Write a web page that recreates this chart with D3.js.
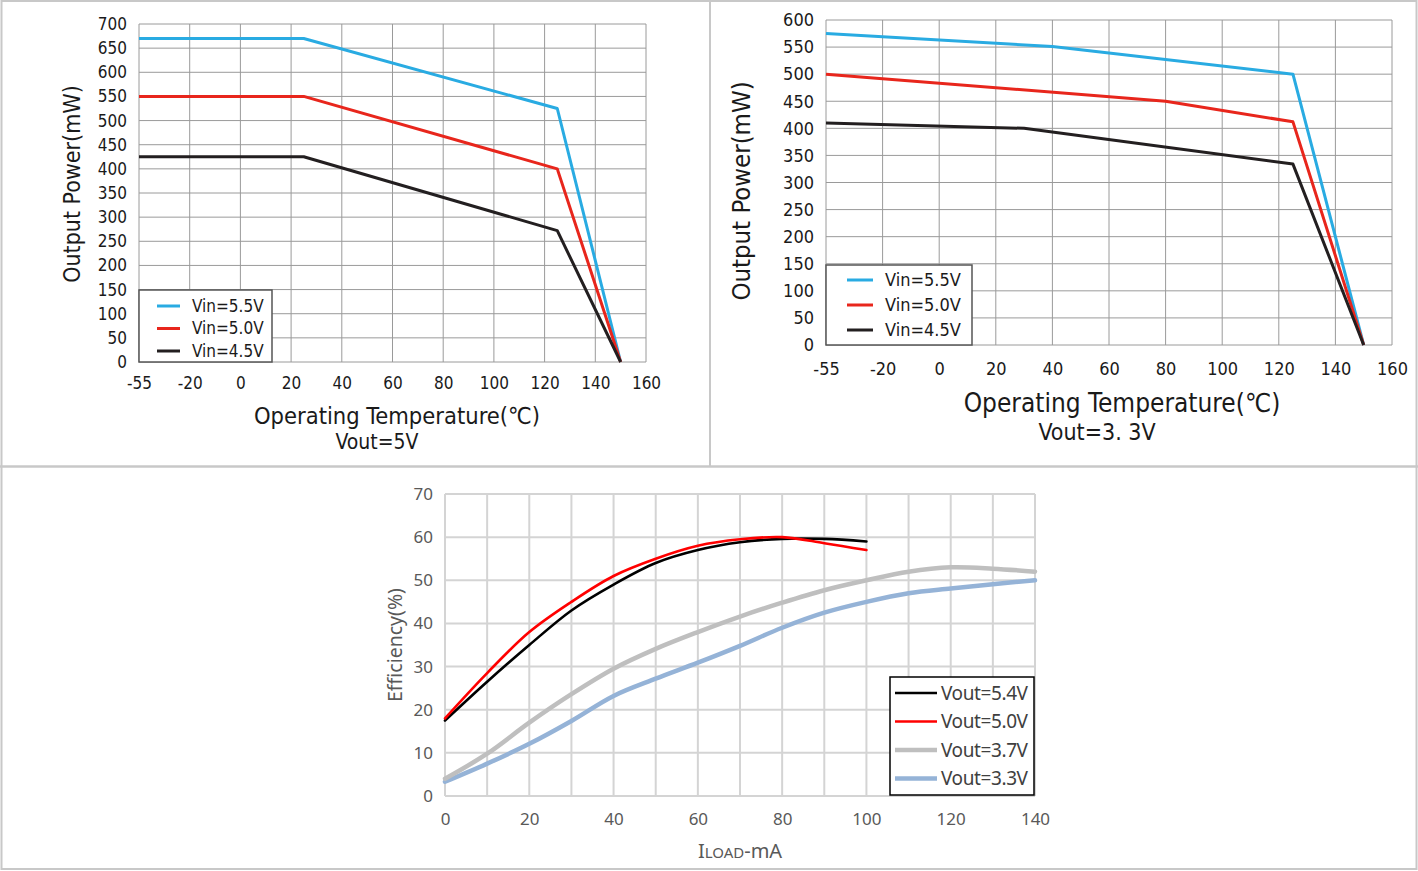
<!DOCTYPE html>
<html>
<head>
<meta charset="utf-8">
<script src="https://cdn.jsdelivr.net/npm/d3@7"></script>
<style>
  body { margin: 0; background: #fff; }
  svg { display: block; }
</style>
</head>
<body>
<div id="chart"></div>
<script>
// temperature axis: labels are evenly spaced, so the scale is piecewise
const tempTicks = [-55, -20, 0, 20, 40, 60, 80, 100, 120, 140, 160];

// Vout = 5V
const tlTemp = [-55, 25, 125, 150];
const tlVin55 = [670, 670, 525, 0];
const tlVin50 = [550, 550, 400, 0];
const tlVin45 = [425, 425, 272, 0];
const tlPowerTicks = d3.range(0, 701, 50);

// Vout = 3.3V
const trTemp55 = [-55, 40, 125, 150];
const trVin55 = [575, 551, 500, 0];
const trTemp50 = [-55, 80, 125, 150];
const trVin50 = [500, 450, 412, 0];
const trTemp45 = [-55, 30, 125, 150];
const trVin45 = [410, 400, 334, 0];
const trPowerTicks = d3.range(0, 601, 50);

const vinNames = ["Vin=5.5V", "Vin=5.0V", "Vin=4.5V"];
const vinColors = ["#29abe2", "#e8261c", "#231f20"];

// efficiency vs load
const loadX = d3.range(0, 141, 10);
const eff54 = [17.5, 26.5, 35, 43, 49, 54, 57, 58.8, 59.6, 59.6, 59];
const eff50 = [18, 28.5, 38, 45, 51, 55, 58, 59.5, 60, 58.6, 57];
const eff37 = [4, 9.8, 17, 23.6, 29.5, 34.1, 38, 41.6, 44.8, 47.7, 50, 52, 53, 52.7, 52];
const eff33 = [3.3, 7.5, 12.1, 17.4, 23.2, 27.2, 30.9, 34.8, 39, 42.5, 45, 47, 48.1, 49.1, 50];
const effTicks = d3.range(0, 71, 10);
const loadLabelTicks = d3.range(0, 141, 20);
const voutNames = ["Vout=5.4V", "Vout=5.0V", "Vout=3.7V", "Vout=3.3V"];
const voutColors = ["#000000", "#ff0000", "#bfbfbf", "#95b3d7"];
const voutWidths = [2.6, 2.6, 4.5, 4.5];

const W = 1418, H = 871;
const svg = d3.select("#chart").append("svg")
    .attr("width", W).attr("height", H);

// panel frame
svg.append("rect").attr("x", 1.5).attr("y", 1).attr("width", 1415).attr("height", 868)
    .attr("fill", "none").attr("stroke", "#c8c8c8").attr("stroke-width", 2);
svg.append("line").attr("x1", 710).attr("x2", 710).attr("y1", 0).attr("y2", 466)
    .attr("stroke", "#c8c8c8").attr("stroke-width", 2);
svg.append("line").attr("x1", 0).attr("x2", W).attr("y1", 466.5).attr("y2", 466.5)
    .attr("stroke", "#c8c8c8").attr("stroke-width", 2.5);

const topFont = "'DejaVu Sans Condensed', 'Liberation Sans Narrow', 'DejaVu Sans', sans-serif";

function tempChart(opt) {
    const x = d3.scaleLinear()
        .domain(tempTicks)
        .range(tempTicks.map((d, i) => opt.left + i * (opt.right - opt.left) / (tempTicks.length - 1)));
    const y = d3.scaleLinear().domain([0, opt.ymax]).range([opt.bottom, opt.top]);
    const g = svg.append("g");

    // grid
    g.append("g").selectAll("line").data(tempTicks).enter().append("line")
        .attr("x1", d => x(d)).attr("x2", d => x(d))
        .attr("y1", opt.top).attr("y2", opt.bottom)
        .attr("stroke", "#9a9a9a").attr("stroke-width", 1);
    g.append("g").selectAll("line").data(opt.yTicks).enter().append("line")
        .attr("x1", opt.left).attr("x2", opt.right)
        .attr("y1", d => y(d)).attr("y2", d => y(d))
        .attr("stroke", "#9a9a9a").attr("stroke-width", 1);

    // axes (labels only)
    const xa = g.append("g").attr("transform", "translate(0," + opt.bottom + ")")
        .call(d3.axisBottom(x).tickValues(tempTicks).tickSize(0).tickPadding(opt.xPad).tickFormat(d => String(d)));
    const ya = g.append("g").attr("transform", "translate(" + opt.left + ",0)")
        .call(d3.axisLeft(y).tickValues(opt.yTicks).tickSize(0).tickPadding(12));
    [xa, ya].forEach(a => {
        a.select(".domain").remove();
        a.selectAll("text").attr("font-family", topFont).attr("font-size", opt.tickSize).attr("fill", "#1a1a1a");
    });

    // series
    const line = d3.line().x(d => x(d[0])).y(d => y(d[1]));
    opt.series.forEach((s, i) => {
        g.append("path").datum(d3.zip(s.t, s.v))
            .attr("d", line).attr("fill", "none")
            .attr("stroke", vinColors[i]).attr("stroke-width", 3)
            .attr("stroke-linejoin", "round");
    });

    // legend
    const lg = g.append("g");
    lg.append("rect").attr("x", opt.left).attr("y", opt.legTop)
        .attr("width", opt.legW).attr("height", opt.bottom - opt.legTop)
        .attr("fill", "#fff").attr("stroke", "#555").attr("stroke-width", 1.5);
    vinNames.forEach((n, i) => {
        const yy = opt.legTop + opt.legRow0 + i * opt.legStep;
        lg.append("line").attr("x1", opt.left + opt.legL0).attr("x2", opt.left + opt.legL1)
            .attr("y1", yy).attr("y2", yy)
            .attr("stroke", vinColors[i]).attr("stroke-width", 3);
        lg.append("text").attr("x", opt.left + opt.legTx).attr("y", yy).attr("dy", "0.35em")
            .attr("font-family", topFont).attr("font-size", opt.legSize).attr("fill", "#1a1a1a")
            .text(n);
    });

    // titles
    g.append("text").attr("transform", "translate(" + opt.yTitleX + "," + opt.yTitleY + ") rotate(-90)")
        .attr("text-anchor", "middle").attr("dy", "0.35em")
        .attr("font-family", topFont).attr("font-size", opt.yTitleSize).attr("fill", "#1a1a1a")
        .text("Output Power(mW)");
    g.append("text").attr("x", opt.xTitleX).attr("y", opt.xTitleY)
        .attr("text-anchor", "middle")
        .attr("font-family", topFont).attr("font-size", opt.xTitleSize).attr("fill", "#1a1a1a")
        .text("Operating Temperature(℃)");
    g.append("text").attr("x", opt.subX).attr("y", opt.subY)
        .attr("text-anchor", "middle")
        .attr("font-family", topFont).attr("font-size", opt.subSize).attr("fill", "#1a1a1a")
        .text(opt.sub);
}

tempChart({
    left: 139, right: 646, top: 24, bottom: 362, ymax: 700, yTicks: tlPowerTicks,
    xPad: 15, tickSize: 17,
    series: [
        {t: tlTemp, v: tlVin55},
        {t: tlTemp, v: tlVin50},
        {t: tlTemp, v: tlVin45}
    ],
    legTop: 290, legW: 133, legRow0: 16, legStep: 22.5, legL0: 18, legL1: 41, legTx: 53, legSize: 17,
    yTitleSize: 23, xTitleSize: 23.5, subSize: 21, yTitleX: 72, yTitleY: 184,
    xTitleX: 397, xTitleY: 424, subX: 377, subY: 449, sub: "Vout=5V"
});

tempChart({
    left: 826, right: 1392, top: 20, bottom: 345, ymax: 600, yTicks: trPowerTicks,
    xPad: 17, tickSize: 18,
    series: [
        {t: trTemp55, v: trVin55},
        {t: trTemp50, v: trVin50},
        {t: trTemp45, v: trVin45}
    ],
    legTop: 265, legW: 146, legRow0: 15, legStep: 25, legL0: 21, legL1: 47, legTx: 59, legSize: 18,
    yTitleSize: 25.5, xTitleSize: 26, subSize: 23, yTitleX: 741, yTitleY: 191,
    xTitleX: 1122, xTitleY: 412, subX: 1097, subY: 440, sub: "Vout=3. 3V"
});

// efficiency chart
(function () {
    const left = 445, right = 1035, top = 494, bottom = 796;
    const font = "'Noto Sans', 'DejaVu Sans', sans-serif";
    const x = d3.scaleLinear().domain([0, 140]).range([left, right]);
    const y = d3.scaleLinear().domain([0, 70]).range([bottom, top]);
    const g = svg.append("g");

    g.append("g").selectAll("line").data(loadX).enter().append("line")
        .attr("x1", d => x(d)).attr("x2", d => x(d)).attr("y1", top).attr("y2", bottom)
        .attr("stroke", "#d4d4d4").attr("stroke-width", 2);
    g.append("g").selectAll("line").data(effTicks).enter().append("line")
        .attr("x1", left).attr("x2", right).attr("y1", d => y(d)).attr("y2", d => y(d))
        .attr("stroke", "#d4d4d4").attr("stroke-width", 2);

    const xa = g.append("g").attr("transform", "translate(0," + bottom + ")")
        .call(d3.axisBottom(x).tickValues(loadLabelTicks).tickSize(0).tickPadding(17));
    const ya = g.append("g").attr("transform", "translate(" + left + ",0)")
        .call(d3.axisLeft(y).tickValues(effTicks).tickSize(0).tickPadding(12));
    [xa, ya].forEach(a => {
        a.select(".domain").remove();
        a.selectAll("text").attr("font-family", font).attr("font-size", 17).attr("fill", "#595959");
    });

    const series = [eff54, eff50, eff37, eff33];
    const line = d3.line().x(d => x(d[0])).y(d => y(d[1])).curve(d3.curveCatmullRom.alpha(0.5));
    [3, 2, 0, 1].forEach(i => {
        const s = series[i];
        g.append("path").datum(d3.zip(loadX.slice(0, s.length), s))
            .attr("d", line).attr("fill", "none")
            .attr("stroke", voutColors[i]).attr("stroke-width", voutWidths[i])
            .attr("stroke-linecap", "round");
    });

    // legend
    g.append("rect").attr("x", 890).attr("y", 677).attr("width", 144).attr("height", 118)
        .attr("fill", "#fff").attr("stroke", "#000").attr("stroke-width", 1.5);
    voutNames.forEach((n, i) => {
        const yy = 693 + i * 28.5;
        g.append("line").attr("x1", 895).attr("x2", 937).attr("y1", yy).attr("y2", yy)
            .attr("stroke", voutColors[i]).attr("stroke-width", voutWidths[i]);
        g.append("text").attr("x", 941).attr("y", yy).attr("dy", "0.35em")
            .attr("font-family", font).attr("font-size", 19).attr("fill", "#404040")
            .attr("letter-spacing", -0.4)
            .text(n);
    });

    g.append("text").attr("transform", "translate(395,645) rotate(-90)")
        .attr("text-anchor", "middle").attr("dy", "0.35em")
        .attr("font-family", font).attr("font-size", 19.5).attr("fill", "#595959")
        .text("Efficiency(%)");
    const t = g.append("text").attr("x", 740).attr("y", 858).attr("text-anchor", "middle")
        .attr("font-family", font).attr("font-size", 20).attr("fill", "#595959");
    t.append("tspan").text("I");
    t.append("tspan").attr("font-size", 15).text("LOAD");
    t.append("tspan").text("-mA");
})();
</script>
</body>
</html>
